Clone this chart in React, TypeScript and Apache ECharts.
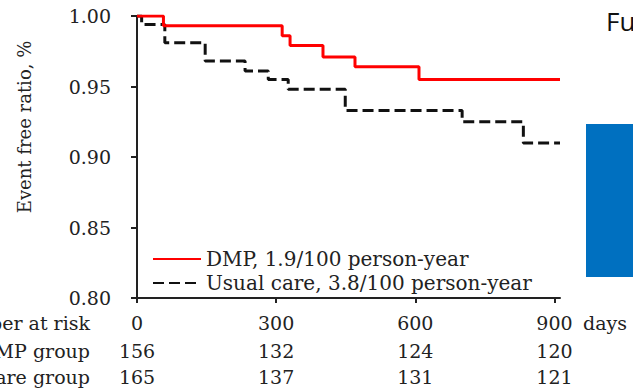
import React, { useEffect, useRef } from "react";
import * as echarts from "echarts";

const dmpTimes = [0, 57, 313, 330, 401, 470, 608, 912];
const dmpValues = [1.0, 0.993, 0.986, 0.979, 0.971, 0.964, 0.955, 0.955];
const usualTimes = [0, 10, 60, 147, 233, 283, 326, 449, 701, 833, 912];
const usualValues = [1.0, 0.994, 0.981, 0.968, 0.961, 0.955, 0.948, 0.933, 0.925, 0.91, 0.91];

const tickDays = [0, 300, 600, 900];
const dmpAtRisk = [156, 132, 124, 120];
const usualAtRisk = [165, 137, 131, 121];

const yTicks = [0.8, 0.85, 0.9, 0.95, 1.0];

const SERIF = "'DejaVu Serif', serif";
const INK = "#222";
const FS = 19;

export default function App() {
  const ref = useRef<HTMLDivElement>(null);
  useEffect(() => {
    if (!ref.current) return;
    const chart = echarts.init(ref.current, undefined, { renderer: "svg" });
    const rowAxis = (offset: number, labels: (number | string)[] | null, name: string, nameLoc: "start" | "end", nameGap: number) => ({
      type: "value",
      min: 0,
      max: 912,
      position: "bottom",
      offset,
      axisLine: { show: false },
      axisTick: { show: false },
      splitLine: { show: false },
      name,
      nameLocation: nameLoc,
      nameGap,
      nameTextStyle: { fontFamily: SERIF, fontSize: FS, color: INK, verticalAlign: "middle" },
      axisLabel: labels
        ? {
            show: true,
            customValues: tickDays,
            margin: 0,
            verticalAlign: "middle",
            fontFamily: SERIF,
            fontSize: FS,
            color: INK,
            formatter: (v: number) => {
              const i = tickDays.indexOf(v);
              return i >= 0 ? String(labels[i]) : "";
            },
          }
        : { show: false },
    });
    chart.setOption({
      animation: false,
      grid: { left: 137, right: 73, top: 16, bottom: 90, containLabel: false, outerBoundsMode: "none" },
      legend: {
        show: true,
        orient: "vertical",
        left: 147,
        top: 244,
        itemWidth: 48,
        itemHeight: 14,
        itemGap: 4,
        itemStyle: { color: "transparent", borderColor: "transparent", borderWidth: 0, opacity: 0 },
        textStyle: { fontFamily: SERIF, fontSize: 20, color: INK },
        data: ["DMP, 1.9/100 person-year", "Usual care, 3.8/100 person-year"],
      },
      xAxis: [
        {
          type: "value",
          min: 0,
          max: 912,
          position: "bottom",
          axisLine: { show: true, onZero: false, lineStyle: { color: INK, width: 2 } },
          axisTick: { show: true, length: 5, customValues: tickDays, lineStyle: { color: INK, width: 2 } },
          axisLabel: { show: false },
          splitLine: { show: false },
        },
        rowAxis(25, tickDays, "Number at risk", "start", 47),
        rowAxis(25, null, "days", "end", 23),
        rowAxis(53, dmpAtRisk, "DMP group", "start", 47),
        rowAxis(79, usualAtRisk, "Usual care group", "start", 47),
      ],
      yAxis: {
        type: "value",
        min: 0.8,
        max: 1.0,
        interval: 0.05,
        name: "Event free ratio, %",
        nameLocation: "middle",
        nameRotate: 90,
        nameGap: 104,
        nameTextStyle: { fontFamily: SERIF, fontSize: 18, color: INK, padding: [0, 0, 0, 60] },
        axisLine: { show: true, onZero: false, lineStyle: { color: INK, width: 2 } },
        axisTick: { show: true, length: 6, customValues: yTicks, lineStyle: { color: INK, width: 2 } },
        axisLabel: {
          margin: 26,
          fontFamily: SERIF,
          fontSize: FS,
          color: INK,
          formatter: (v: number) => v.toFixed(2),
        },
        splitLine: { show: false },
      },
      series: [
        {
          name: "DMP, 1.9/100 person-year",
          type: "line",
          step: "end",
          symbol: "none",
          showSymbol: false,
          lineStyle: { color: "#ff0000", width: 3 },
          itemStyle: { color: "#ff0000" },
          data: dmpTimes.map((t, i) => [t, dmpValues[i]]),
          z: 3,
        },
        {
          name: "Usual care, 3.8/100 person-year",
          type: "line",
          step: "end",
          symbol: "none",
          showSymbol: false,
          lineStyle: { color: "#111", width: 3, type: [11, 5] },
          itemStyle: { color: "#111" },
          data: usualTimes.map((t, i) => [t, usualValues[i]]),
          z: 2,
        },
      ],
      graphic: [
        {
          type: "text",
          left: 606,
          top: 8,
          style: { text: "Fu", fontFamily: "'Open Sans', sans-serif", fontSize: 26, fill: "#111" },
        },
        {
          type: "rect",
          shape: { x: 586, y: 124, width: 47, height: 153 },
          style: { fill: "#0070C0" },
        },
      ],
    });
    return () => chart.dispose();
  }, []);
  return (
    <div
      ref={ref}
      style={{ position: "absolute", left: 0, top: 0, width: 633, height: 388, background: "#fff" }}
    />
  );
}
